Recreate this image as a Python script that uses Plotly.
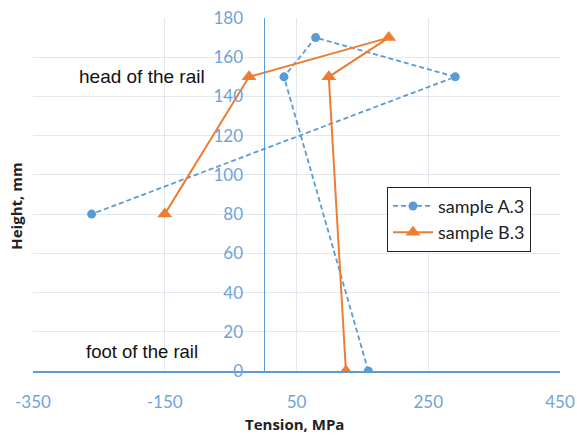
import plotly.graph_objects as go

# Data
height_a = [0, 150, 170, 150, 80]
tension_a = [159, 31, 79, 291, -261]
height_b = [0, 150, 170, 150, 80]
tension_b = [125, 99, 190, -22, -150]

x_ticks = [-350, -150, 50, 250, 450]
y_ticks = [0, 20, 40, 60, 80, 100, 120, 140, 160, 180]

BLUE = "#5B9BD5"
ORANGE = "#ED7D31"
TICK = "#6FA3D8"
GRID = "#E3E7EE"

fig = go.Figure()
fig.add_trace(go.Scatter(
    x=tension_a, y=height_a, mode="lines+markers", name="sample A.3",
    line=dict(color=BLUE, width=1.8, dash="5px,3px"),
    marker=dict(symbol="circle", size=9, color=BLUE),
))
fig.add_trace(go.Scatter(
    x=tension_b, y=height_b, mode="lines+markers", name="sample B.3",
    line=dict(color=ORANGE, width=2),
    marker=dict(symbol="triangle-up", size=13, color=ORANGE),
))

W, H = 577, 437
# plot area in screen pixels
x0s, x1s, y0s, y1s = 33, 560, 18, 371.5
ml = x0s
mr = W - x1s
mt = y0s
mb = H - y1s
pw = W - ml - mr
ph = H - mt - mb

def px_x(p):
    return (p - ml) / pw

def px_y(p):
    return (H - mb - p) / ph

fig.update_layout(
    width=W, height=H,
    margin=dict(l=ml, r=mr, t=mt, b=mb, pad=0, autoexpand=False),
    paper_bgcolor="white", plot_bgcolor="white",
    font=dict(family="Lato, Liberation Sans, sans-serif", size=16, color="#222"),
    xaxis=dict(
        range=[-350, 450], tickvals=x_ticks, ticktext=[str(v) for v in x_ticks],
        showgrid=True, gridcolor=GRID, gridwidth=1,
        zeroline=False, showline=True, linecolor=BLUE, linewidth=2,
        tickfont=dict(color=TICK, size=17, family="Lato, sans-serif"),
        ticks="", ticklabelstandoff=15, fixedrange=True, automargin=False,
        ticklabeloverflow="allow",
    ),
    yaxis=dict(
        range=[0, 180], tickvals=y_ticks, ticktext=[str(v) for v in y_ticks],
        showgrid=True, gridcolor=GRID, gridwidth=1,
        zeroline=False, showline=True, linecolor=BLUE, linewidth=1.2,
        anchor="free", position=350 / 800,
        tickfont=dict(color=TICK, size=17, family="Lato, sans-serif"),
        ticks="", ticklabelstandoff=17, fixedrange=True, automargin=False,
        ticklabeloverflow="allow",
    ),
    showlegend=True,
    legend=dict(
        x=px_x(387), y=px_y(187), xanchor="left", yanchor="top",
        bgcolor="white", bordercolor="#222", borderwidth=1,
        font=dict(family="Lato, sans-serif", size=18, color="#222"),
        tracegroupgap=6, itemwidth=40,
    ),
    annotations=[
        dict(x=-184, y=150, xref="x", yref="y", text="head of the rail", showarrow=False,
             xanchor="center", yanchor="middle",
             font=dict(family="Liberation Sans, Arial, sans-serif", size=19, color="#111")),
        dict(x=-184, y=10, xref="x", yref="y", text="foot of the rail", showarrow=False,
             xanchor="center", yanchor="middle",
             font=dict(family="Liberation Sans, Arial, sans-serif", size=18.5, color="#111")),
        dict(x=px_x(294), y=px_y(425), xref="paper", yref="paper", text="<b>Tension, MPa</b>",
             showarrow=False, xanchor="center", yanchor="middle",
             font=dict(family="Open Sans, sans-serif", size=15, color="#222")),
        dict(x=px_x(16), y=px_y(207), xref="paper", yref="paper", text="<b>Height, mm</b>",
             showarrow=False, textangle=-90, xanchor="center", yanchor="middle",
             font=dict(family="Open Sans, sans-serif", size=15, color="#222")),
    ],
)

fig.write_html("out.html", config={"displayModeBar": False},
               post_script="document.body.style.margin='0px';")
